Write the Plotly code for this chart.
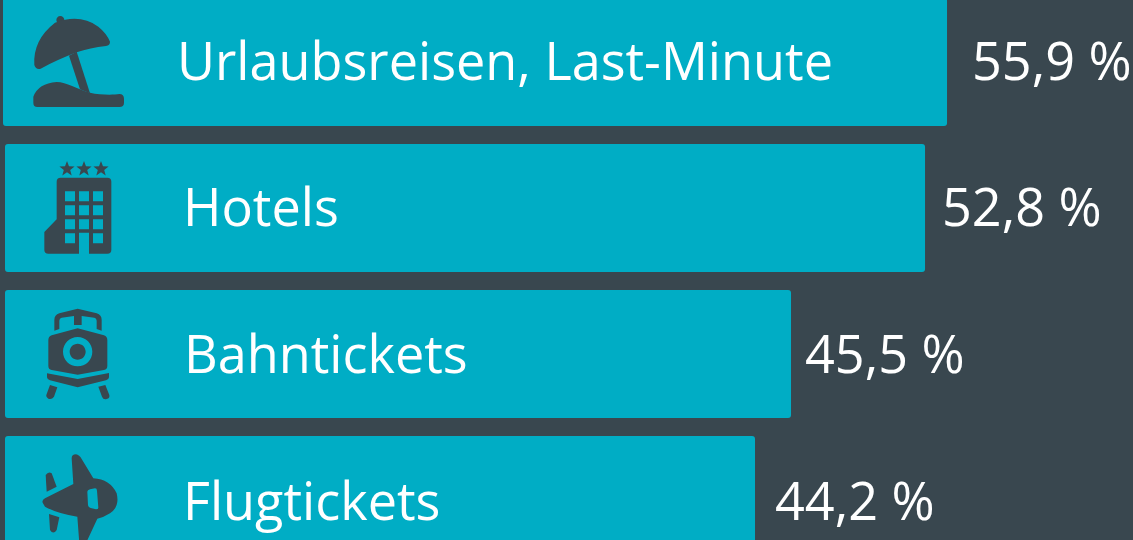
import math
import re
import plotly.graph_objects as go

# Data
categories = ["Urlaubsreisen, Last-Minute", "Hotels", "Bahntickets", "Flugtickets"]
percent_labels = [55.9, 52.8, 45.5, 44.2]
# The drawn bars are not strictly proportional to their printed labels: lengths as drawn, on the same % axis
drawn_lengths = [55.86, 54.44, 46.51, 44.38]

# Layout and style (kept apart from the data)
W, H = 1133, 540
PX_PER_UNIT = 16.9
BG = "#39474f"
TEAL = "#00adc5"
FONT = "Open Sans"
FONT_SIZE = 52.2
FONT_WEIGHT = 400
text_lift_px = [3, 3, 2, 1]
bar_left_px = [3, 5, 5, 5]
name_left_px = [175, 181, 182, 181]
value_left_px = [970, 940, 803, 773]
FIRST_CENTER_PX, PITCH_PX, BAR_PX = 62, 146, 128


def to_paper(path, oy=0):
    """Zoomed-crop coordinates (3x) -> paper coordinates."""
    tokens = re.findall(r"[A-Za-z]|-?[\d.]+", path)
    out, is_x, x = [], True, 0
    for t in tokens:
        if t.isalpha():
            out.append(t)
            is_x = True
        elif is_x:
            x = float(t) / 3 / W
            is_x = False
        else:
            out.append(f"{x:.5f},{1 - (float(t) / 3 + oy) / H:.5f}")
            is_x = True
    return " ".join(out)


def circle(cx, cy, r):
    k = 0.5523 * r
    return (f"M{cx - r},{cy} C{cx - r},{cy - k} {cx - k},{cy - r} {cx},{cy - r} "
            f"C{cx + k},{cy - r} {cx + r},{cy - k} {cx + r},{cy} "
            f"C{cx + r},{cy + k} {cx + k},{cy + r} {cx},{cy + r} "
            f"C{cx - k},{cy + r} {cx - r},{cy + k} {cx - r},{cy} Z ")


def star(cx, cy, r):
    pts = []
    for i in range(10):
        a = -math.pi / 2 + i * math.pi / 5
        rr = r if i % 2 == 0 else r * 0.42
        pts.append(f"{cx + rr * math.cos(a):.1f},{cy + rr * math.sin(a):.1f}")
    return "M" + " L".join(pts) + " Z "


def rect(x0, y0, x1, y1):
    return f"M{x0},{y0} L{x1},{y0} L{x1},{y1} L{x0},{y1} Z "


umbrella_parts = [
    circle(181, 60, 12),
    "M165,68 Q240,40 295,80 Q320,100 330,125 Q330,136 318,138 Q270,143 230,157 "
    "Q170,180 122,206 Q108,210 103,195 Q98,120 165,68 Z",
    "M207,167 L230,155 L270,280 L240,268 Z",
    "M100,290 Q115,250 170,246 C200,246 230,268 270,278 C300,285 340,285 358,282 "
    "Q372,282 372,296 L372,308 Q372,321 358,321 L112,321 Q100,321 100,308 Z",
]

windows = ""
for i, ry in enumerate([574, 616, 658, 700]):
    for j, cx in enumerate([195, 237, 279]):
        if i == 3 and j == 1:
            continue
        windows += rect(cx, ry, cx + 30, ry + 30)
hotel_parts = [
    star(201, 507, 24) + star(252, 507, 24) + star(303, 507, 24),
    "M170,545 Q170,533 182,533 L322,533 Q334,533 334,545 L334,750 Q334,761 322,761 "
    "L267,761 L267,698 L237,698 L237,761 L145,761 Q133,761 133,750 L133,696 L170,658 Z "
    + windows,
]

train_parts = [
    "M163,152 L163,120 Q163,105 178,100 L233,86 L290,100 Q305,105 305,120 L305,152 L290,147 "
    "L290,122 Q290,115 283,113 L245,108 L245,135 L222,135 L222,108 L185,113 Q178,115 178,122 L178,147 Z",
    "M145,180 Q145,170 155,166 L233,145 L312,166 Q322,170 322,180 L322,258 Q322,268 312,270 "
    "L233,284 L155,270 Q145,268 145,258 Z " + circle(233, 215, 44) + circle(233, 215, 24),
    "M141,280 L233,297 L327,279 L327,292 Q327,298 318,301 L233,322 L150,301 Q141,298 141,292 Z",
    "M150,315 L172,322 L162,350 Q155,360 145,356 Q136,350 140,342 Z",
    "M295,320 L316,315 L328,345 Q330,355 320,357 Q310,360 306,350 Z",
]

plane_parts = [
    "M128,668 Q125,660 135,655 L220,612 L215,535 Q215,523 228,523 Q238,525 245,537 L280,595 "
    "Q330,598 350,640 Q360,680 330,700 Q310,713 292,716 L260,785 L238,790 L232,710 Q170,700 135,680 Z "
    "M262,635 Q262,630 270,628 L285,625 Q291,625 291,632 L295,683 Q295,688 288,688 L272,684 Q265,683 264,676 Z",
    "M137,585 Q145,573 155,580 L170,620 L140,635 Z",
    "M147,702 L178,712 L170,750 Q160,765 150,750 Z",
]

icons = [(umbrella_parts, 0), (hotel_parts, 0), (train_parts, 280), (plane_parts, 280)]

fig = go.Figure(
    go.Bar(
        y=categories,
        x=drawn_lengths,
        base=[p / PX_PER_UNIT for p in bar_left_px],
        orientation="h",
        marker=dict(color=TEAL, line=dict(width=0)),
        hoverinfo="skip",
    )
)

text_font = dict(family=FONT, size=FONT_SIZE, color="white", weight=FONT_WEIGHT)
for name, value, nx, vx, lift in zip(categories, percent_labels, name_left_px, value_left_px, text_lift_px):
    fig.add_annotation(x=nx / PX_PER_UNIT, y=name, text=name, xref="x", yref="y", xanchor="left",
                       yanchor="middle", yshift=lift, showarrow=False, font=text_font)
    label = f"{value:.1f}".replace(".", ",") + " %"
    fig.add_annotation(x=vx / PX_PER_UNIT, y=name, text=label, xref="x", yref="y", xanchor="left",
                       yanchor="middle", yshift=lift, showarrow=False, font=text_font)

for parts, oy in icons:
    for path in parts:
        fig.add_shape(type="path", path=to_paper(path, oy), xref="paper", yref="paper",
                      fillcolor=BG, line=dict(width=0), layer="above")

fig.update_layout(
    width=W,
    height=H,
    margin=dict(l=0, r=0, t=0, b=0),
    paper_bgcolor=BG,
    plot_bgcolor=BG,
    showlegend=False,
    bargap=1 - BAR_PX / PITCH_PX,
    barcornerradius=3,
    xaxis=dict(range=[0, W / PX_PER_UNIT], visible=False, fixedrange=True),
    yaxis=dict(
        type="category",
        categoryorder="array",
        categoryarray=categories,
        range=[(H - FIRST_CENTER_PX) / PITCH_PX, -FIRST_CENTER_PX / PITCH_PX],
        visible=False,
        fixedrange=True,
    ),
)

fig.write_html(
    "out.html",
    config={"displayModeBar": False},
    post_script="document.body.style.margin='0';document.body.style.overflow='hidden';",
)
